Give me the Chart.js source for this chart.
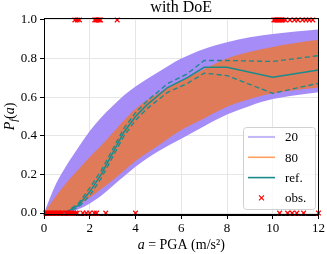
<!DOCTYPE html>
<html>
<head>
<meta charset="utf-8">
<script src="https://cdn.jsdelivr.net/npm/chart.js@4"></script>
<style>
html, body { margin: 0; padding: 0; background: #fff; }
#wrap { width: 327px; height: 254px; }
</style>
</head>
<body>
<div id="wrap"><canvas id="pf_chart" width="327" height="254"></canvas></div>
<script>
// fragility band limits, 20 and 80 samples
const bandX = [0, 0.5, 1, 1.5, 2, 2.5, 3, 3.5, 4, 5, 6, 7, 8, 9, 10, 11, 12]
const upper20 = [0, 0.145, 0.25, 0.34, 0.425, 0.495, 0.555, 0.61, 0.655, 0.73, 0.8, 0.85, 0.885, 0.91, 0.927, 0.94, 0.95]
const lower20 = [0, 0, 0, 0.02, 0.05, 0.09, 0.14, 0.19, 0.24, 0.32, 0.385, 0.45, 0.51, 0.555, 0.59, 0.61, 0.625]
const upper80 = [0, 0.085, 0.16, 0.225, 0.29, 0.35, 0.415, 0.48, 0.54, 0.62, 0.685, 0.745, 0.8, 0.835, 0.86, 0.88, 0.897]
const lower80 = [0, 0, 0.005, 0.04, 0.08, 0.125, 0.17, 0.22, 0.27, 0.35, 0.43, 0.49, 0.55, 0.59, 0.62, 0.637, 0.65]

// reference curve and its bounds
const refX = [0.9, 1.5, 2, 2.5, 3, 3.5, 4, 4.5, 5.4, 6.25, 7, 8, 10, 12]
const refMid = [0, 0.04, 0.11, 0.2, 0.31, 0.42, 0.5, 0.56, 0.65, 0.7, 0.755, 0.755, 0.703, 0.741]
const refHigh = [0, 0.05, 0.13, 0.22, 0.33, 0.44, 0.52, 0.58, 0.67, 0.72, 0.79, 0.79, 0.785, 0.815]
const refLow = [0, 0.03, 0.09, 0.18, 0.29, 0.4, 0.48, 0.54, 0.625, 0.67, 0.724, 0.712, 0.62, 0.672]

// observations: failures (1) and non failures (0)
const failX = [1.35, 1.45, 1.55, 2.22, 2.27, 2.32, 2.37, 2.42, 2.47, 3.2,
    10.05, 10.1, 10.15, 10.2, 10.25, 10.3, 10.35, 10.4, 10.45, 10.55, 10.75, 10.95, 11.1, 11.3, 11.45, 11.6, 11.75]
const safeX = [0.08, 0.14, 0.2, 0.27, 0.33, 0.4, 0.46, 0.52, 0.58, 0.64, 0.7, 0.76, 0.82, 0.95, 1.02, 1.08, 1.15, 1.22, 1.3, 1.38, 1.45,
    1.7, 1.85, 2.0, 2.2, 2.3, 2.7, 4.0, 10.3, 10.65, 10.85, 11.05, 11.35, 12.0]

const xTicks = [0, 2, 4, 6, 8, 10, 12]
const yTicks = [0, 0.2, 0.4, 0.6, 0.8, 1.0]

const FONT = "'Liberation Serif', serif"
const PURPLE_FILL = "#a58cf7"
const PURPLE_LINE = "#b4a5f5"
const ORANGE_FILL = "#df7b59"
const ORANGE_LINE = "#ffa062"
const TEAL = "#1b8a8a"

function toPoints(xs, ys) {
    return xs.map((x, i) => ({x: x, y: ys[i]}))
}

const framePlugin = {
    id: "frame",
    afterDatasetsDraw(chart) {
        const a = chart.chartArea
        const ctx = chart.ctx
        ctx.save()
        ctx.strokeStyle = "#000"
        ctx.lineWidth = 1
        ctx.strokeRect(Math.round(a.left) + 0.5, Math.round(a.top) + 0.5,
            Math.round(a.right - a.left) - 1, Math.round(a.bottom - a.top) - 1)
        ctx.restore()
    },
    afterDraw(chart) {
        const ctx = chart.ctx
        const a = chart.chartArea
        const cx = (a.left + a.right) / 2
        ctx.save()
        ctx.fillStyle = "#000"
        ctx.textBaseline = "alphabetic"

        // title
        ctx.font = "16px " + FONT
        ctx.textAlign = "center"
        ctx.fillText("with DoE", cx, 12)

        // x label: a = PGA (m/s²)
        const parts = [["italic 14px " + FONT, "a"], ["14px " + FONT, " = PGA (m/s²)"]]
        let w = 0
        parts.forEach(p => { ctx.font = p[0]; w += ctx.measureText(p[1]).width })
        let x = cx - w / 2
        ctx.textAlign = "left"
        parts.forEach(p => { ctx.font = p[0]; ctx.fillText(p[1], x, 249); x += ctx.measureText(p[1]).width })

        // y label: P_f(a)
        ctx.translate(14, (a.top + a.bottom) / 2)
        ctx.rotate(-Math.PI / 2)
        const yparts = [["italic 14px " + FONT, "P", 0], ["italic 10px " + FONT, "f", 3], ["14px " + FONT, "(", 0],
            ["italic 14px " + FONT, "a", 0], ["14px " + FONT, ")", 0]]
        w = 0
        yparts.forEach(p => { ctx.font = p[0]; w += ctx.measureText(p[1]).width })
        x = -w / 2
        yparts.forEach(p => { ctx.font = p[0]; ctx.fillText(p[1], x, p[2]); x += ctx.measureText(p[1]).width })
        ctx.restore()

        // legend box
        const lx = 243, ly = 127, lw = 72, lh = 82
        ctx.save()
        ctx.fillStyle = "rgba(255,255,255,0.8)"
        ctx.strokeStyle = "#d0d0d0"
        ctx.lineWidth = 1
        ctx.beginPath()
        ctx.roundRect(lx + 0.5, ly + 0.5, lw, lh, 3)
        ctx.fill()
        ctx.stroke()
        const items = [["20", PURPLE_LINE, "line"], ["80", ORANGE_LINE, "line"], ["ref.", TEAL, "line"], ["obs.", "#ff0000", "cross"]]
        ctx.font = "13px " + FONT
        ctx.textBaseline = "middle"
        ctx.textAlign = "left"
        items.forEach((it, i) => {
            const y = ly + 10 + i * 20.3
            ctx.strokeStyle = it[1]
            if (it[2] === "line") {
                ctx.lineWidth = 1.6
                ctx.beginPath()
                ctx.moveTo(lx + 5, y)
                ctx.lineTo(lx + 32, y)
                ctx.stroke()
            } else {
                ctx.lineWidth = 1.2
                ctx.beginPath()
                ctx.moveTo(lx + 16, y - 2.5); ctx.lineTo(lx + 21, y + 2.5)
                ctx.moveTo(lx + 21, y - 2.5); ctx.lineTo(lx + 16, y + 2.5)
                ctx.stroke()
            }
            ctx.fillStyle = "#000"
            ctx.fillText(it[0], lx + 42, y + 1)
        })
        ctx.restore()
    }
}

const ctx = document.querySelector("#pf_chart")

const data = {
    datasets: [
        {label: "20", data: toPoints(bandX, upper20), borderWidth: 0, pointRadius: 0, backgroundColor: PURPLE_FILL,
            fill: "+1", cubicInterpolationMode: "monotone", order: 7},
        {label: "20 low", data: toPoints(bandX, lower20), borderWidth: 0, pointRadius: 0,
            fill: false, cubicInterpolationMode: "monotone", order: 6},
        {label: "80", data: toPoints(bandX, upper80), borderWidth: 0, pointRadius: 0, backgroundColor: ORANGE_FILL,
            fill: "+1", cubicInterpolationMode: "monotone", order: 5},
        {label: "80 low", data: toPoints(bandX, lower80), borderWidth: 0, pointRadius: 0,
            fill: false, cubicInterpolationMode: "monotone", order: 4},
        {label: "ref.", data: toPoints(refX, refMid), borderColor: TEAL, borderWidth: 1.5, pointRadius: 0, fill: false, order: 3},
        {label: "ref. high", data: toPoints(refX, refHigh), borderColor: TEAL, borderWidth: 1.3, borderDash: [5, 3],
            pointRadius: 0, fill: false, order: 2},
        {label: "ref. low", data: toPoints(refX, refLow), borderColor: TEAL, borderWidth: 1.3, borderDash: [5, 3],
            pointRadius: 0, fill: false, order: 2},
        {type: "scatter", label: "obs.", data: failX.map(x => ({x: x, y: 1})).concat(safeX.map(x => ({x: x, y: 0}))),
            pointStyle: "crossRot", pointRadius: 3.3, borderColor: "#ff0000", borderWidth: 1.2, clip: false, order: 0}
    ]
}

const config = {
    type: "line",
    data: data,
    options: {
        responsive: false,
        animation: false,
        devicePixelRatio: 1,
        layout: {padding: {top: 18, right: 8, left: 0, bottom: 0}},
        plugins: {
            legend: {display: false},
            title: {display: false},
            tooltip: {enabled: false}
        },
        scales: {
            x: {
                type: "linear",
                min: 0,
                max: 12,
                afterFit: (scale) => { scale.height = 39 },
                afterBuildTicks: (scale) => { scale.ticks = xTicks.map(v => ({value: v})) },
                ticks: {color: "#000", font: {family: FONT, size: 13}, padding: 2, maxRotation: 0},
                grid: {color: "#e6e6e6", tickColor: "#000", tickLength: 4},
                border: {color: "#000"}
            },
            y: {
                type: "linear",
                min: -0.01,
                max: 1.01,
                afterFit: (scale) => { scale.width = 44 },
                afterBuildTicks: (scale) => { scale.ticks = yTicks.map(v => ({value: v})) },
                ticks: {color: "#000", font: {family: FONT, size: 13}, padding: 3,
                    callback: (v) => v.toFixed(1)},
                grid: {color: "#e6e6e6", tickColor: "#000", tickLength: 4},
                border: {color: "#000"}
            }
        }
    },
    plugins: [framePlugin]
}

new Chart(ctx, config)
</script>
</body>
</html>
